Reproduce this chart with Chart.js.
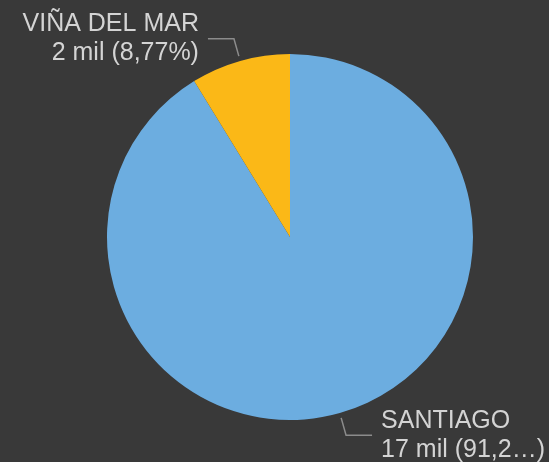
<!DOCTYPE html>
<html>
<head>
<meta charset="utf-8">
<script src="https://cdn.jsdelivr.net/npm/chart.js@4"></script>
<style>
  html, body { margin: 0; padding: 0; background: #393939; }
  #wrap { width: 549px; height: 462px; position: relative; }
</style>
</head>
<body>
<div id="wrap"><canvas id="c" width="549" height="462"></canvas></div>
<script>
const categories = ["SANTIAGO", "VIÑA DEL MAR"];
const values = [17420, 1675];
const colors = ["#6cade0", "#fbb817"];

const total = values.reduce((a, b) => a + b, 0);
function fmtLabel(i) {
  const v = Math.round(values[i] / 1000) + " mil";
  const p = (values[i] / total * 100).toFixed(2).replace(".", ",") + "%";
  return [categories[i], v + " (" + p + ")"];
}

const labelPlugin = {
  id: "outLabels",
  afterDraw(chart) {
    const ctx = chart.ctx;
    const meta = chart.getDatasetMeta(0);
    ctx.save();
    ctx.font = "25px 'Liberation Sans', Arial, sans-serif";
    ctx.textBaseline = "middle";
    meta.data.forEach((arc, i) => {
      const mid = (arc.startAngle + arc.endAngle) / 2;
      const r = arc.outerRadius;
      const cx = arc.x, cy = arc.y;
      const dx = Math.cos(mid), dy = Math.sin(mid);
      const p0 = [cx + dx * (r + 5), cy + dy * (r + 5)];
      const p1 = [cx + dx * (r + 23), cy + dy * (r + 23)];
      const right = dx >= 0;
      const p2 = [p1[0] + (right ? 26 : -26), p1[1]];
      ctx.strokeStyle = "#8c8c8c";
      ctx.lineWidth = 1.5;
      ctx.beginPath();
      ctx.moveTo(p0[0], p0[1]);
      ctx.lineTo(p1[0], p1[1]);
      ctx.lineTo(p2[0], p2[1]);
      ctx.stroke();
      const lines = fmtLabel(i);
      const tx = p2[0] + (right ? 9 : -9);
      ctx.textAlign = right ? "left" : "right";
      ctx.fillStyle = "#d4d4d4";
      const lh = 29;
      lines.forEach((t, k) => {
        let s = t;
        const maxW = right ? chart.width - tx - 3 : tx - 3;
        if (ctx.measureText(s).width > maxW) {
          while (s.length > 1 && ctx.measureText(s + "…)").width > maxW) s = s.slice(0, -1);
          s = s + "…)";
        }
        ctx.fillText(s, tx, p1[1] + (k - (lines.length - 1) / 2) * lh);
      });
    });
    ctx.restore();
  }
};

new Chart(document.getElementById("c"), {
  type: "pie",
  data: {
    labels: categories,
    datasets: [{ data: values, backgroundColor: colors, borderWidth: 0 }]
  },
  options: {
    responsive: false,
    animation: false,
    layout: { padding: { top: 54, bottom: 42, left: 107, right: 76 } },
    plugins: { legend: { display: false }, tooltip: { enabled: false } }
  },
  plugins: [labelPlugin]
});
</script>
</body>
</html>
